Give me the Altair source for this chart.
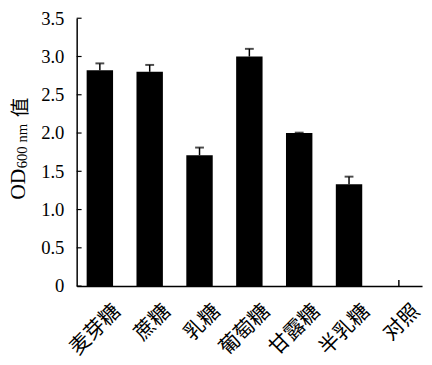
import altair as alt
import pandas as pd

categories = ["麦芽糖", "蔗糖", "乳糖", "葡萄糖", "甘露糖", "半乳糖", "对照"]
values = [2.82, 2.80, 1.71, 3.00, 2.00, 1.33, 0.0]
errors = [0.09, 0.09, 0.10, 0.10, 0.005, 0.10, 0.08]
yticks = [0, 0.5, 1, 1.5, 2, 2.5, 3, 3.5]

df = pd.DataFrame({"cat": categories, "val": values, "err": errors})
df["top"] = df["val"] + df["err"]
tick_df = pd.DataFrame({"v": yticks})

yscale = alt.Scale(domain=[0, 3.5], nice=False)
xscale = alt.Scale(paddingInner=0.47, paddingOuter=0.2)
xaxis = alt.Axis(title=None, labelAngle=-45, labelAlign="right", labelBaseline="middle",
                 labelFont="Noto Sans CJK SC", labelFontSize=21, labelColor="black",
                 ticks=False, domainColor="black", domainWidth=1.5, labelPadding=22,
                 labelOffset=18, labelOverlap=False, labelBound=False)
yaxis = alt.Axis(title=None, values=yticks, labelOverlap=False,
                 labelExpr="datum.value == 0 ? '0' : format(datum.value, '.1f')",
                 labelFont="Liberation Serif", labelFontSize=19, labelColor="black",
                 ticks=False, domainColor="black",
                 domainWidth=1.5, grid=False, labelPadding=13)

def X():
    return alt.X("cat:N", sort=categories, scale=xscale, axis=xaxis, title=None)

def Y(field):
    return alt.Y(field, scale=yscale, axis=yaxis, title=None)

base = alt.Chart(df)
bars = base.mark_bar(color="black").encode(x=X(), y=Y("val:Q"))
err = base.mark_rule(color="black", strokeWidth=1.5).encode(
    x=X(), y=Y("val:Q"), y2="top:Q")
caps = base.transform_filter("datum.cat != '对照'").mark_tick(
    color="black", thickness=2, size=9, orient="horizontal").encode(
    x=X(), y=Y("top:Q"))
inticks = alt.Chart(tick_df).mark_rule(color="black", strokeWidth=1.2).encode(
    y=Y("v:Q"), x=alt.value(0), x2=alt.value(5))

tfont = "Liberation Serif"
t1 = alt.Chart(pd.DataFrame({"t": ["OD"]})).mark_text(
    font=tfont, fontSize=22, angle=270, align="left", baseline="middle", color="black").encode(
    text="t:N", x=alt.value(-60), y=alt.value(185))
t2 = alt.Chart(pd.DataFrame({"t": ["600 nm"]})).mark_text(
    font=tfont, fontSize=15, angle=270, align="left", baseline="middle", color="black").encode(
    text="t:N", x=alt.value(-56), y=alt.value(153))
t3 = alt.Chart(pd.DataFrame({"t": ["值"]})).mark_text(
    font="Noto Sans CJK SC", fontSize=20, angle=270, align="left", baseline="middle", color="black").encode(
    text="t:N", x=alt.value(-57), y=alt.value(101))

chart = alt.layer(bars, err, caps, inticks, t1, t2, t3).properties(
    width=352, height=273,
    autosize=alt.AutoSizeParams(type="none"),
    padding={"left": 70, "top": 7, "right": 2, "bottom": 77},
).configure(background="white", view=alt.ViewConfig(stroke=None))

chart.save("out.html", embed_options={"renderer": "svg", "actions": False})
